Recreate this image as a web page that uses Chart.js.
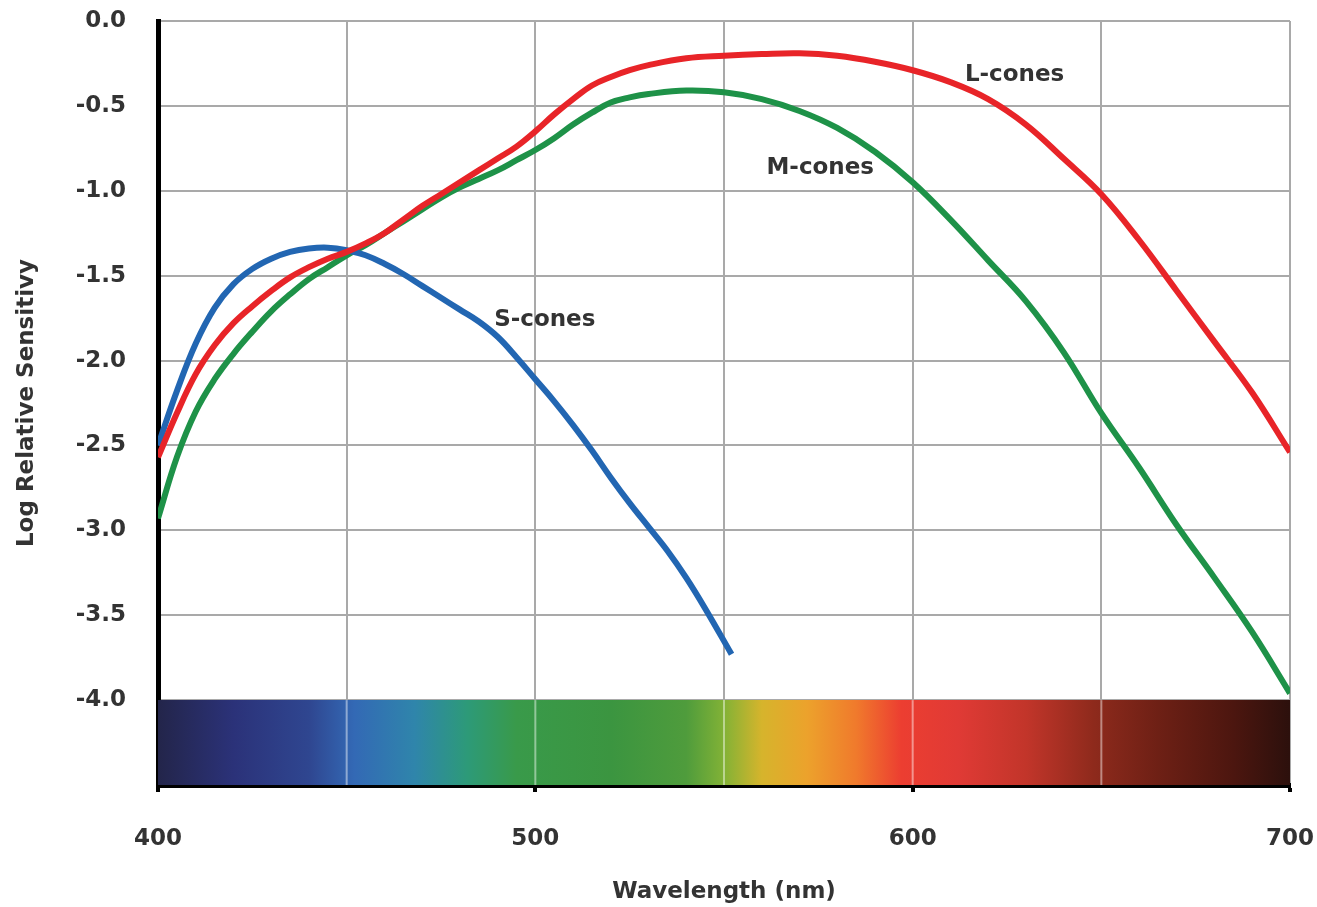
<!DOCTYPE html>
<html>
<head>
<meta charset="utf-8">
<script src="https://cdn.jsdelivr.net/npm/chart.js@4/dist/chart.umd.min.js"></script>
<style>
  html, body { margin: 0; padding: 0; background: #fff; }
  #coneChart { display: block; }
</style>
</head>
<body>
<canvas id="coneChart" width="1317" height="907"></canvas>
<script>
// wavelengths (nm) shared by the L and M curves
const lmWavelengths = [400, 405, 410, 415, 420, 425, 430, 435, 440, 445, 450, 455, 460, 465, 470, 475, 480, 485, 490, 495, 500, 505, 510, 515, 520, 525, 530, 540, 550, 560, 570, 580, 590, 600, 610, 620, 630, 640, 650, 660, 670, 680, 690, 700];
const lCones = [-2.57, -2.31, -2.08, -1.91, -1.78, -1.68, -1.59, -1.51, -1.45, -1.40, -1.36, -1.31, -1.25, -1.17, -1.09, -1.02, -0.95, -0.88, -0.81, -0.74, -0.65, -0.55, -0.46, -0.38, -0.33, -0.29, -0.26, -0.22, -0.205, -0.195, -0.19, -0.205, -0.24, -0.29, -0.36, -0.46, -0.61, -0.81, -1.02, -1.29, -1.59, -1.89, -2.19, -2.54];
const mCones = [-2.93, -2.57, -2.30, -2.11, -1.96, -1.83, -1.71, -1.61, -1.52, -1.45, -1.38, -1.32, -1.25, -1.18, -1.11, -1.04, -0.98, -0.93, -0.88, -0.82, -0.76, -0.69, -0.61, -0.54, -0.48, -0.45, -0.43, -0.41, -0.42, -0.46, -0.53, -0.63, -0.77, -0.95, -1.17, -1.41, -1.65, -1.95, -2.31, -2.63, -2.97, -3.28, -3.60, -3.96];

// S curve stops short of 555 nm
const sWavelengths = [400, 405, 410, 415, 420, 425, 430, 435, 440, 445, 450, 455, 460, 465, 470, 475, 480, 485, 490, 495, 500, 505, 510, 515, 520, 525, 530, 535, 540, 545, 552];
const sCones = [-2.50, -2.18, -1.90, -1.69, -1.55, -1.46, -1.40, -1.36, -1.34, -1.335, -1.35, -1.38, -1.43, -1.49, -1.56, -1.63, -1.70, -1.77, -1.86, -1.98, -2.11, -2.24, -2.38, -2.53, -2.69, -2.84, -2.98, -3.12, -3.28, -3.46, -3.73];

// visible spectrum strip along the bottom
const spectrumNm = [400, 420, 440, 452, 468, 482, 495, 520, 540, 550, 560, 572, 585, 597, 612, 630, 648, 665, 685, 700];
const spectrumColors = ["#23254a", "#2b3279", "#2f4690", "#3369b5", "#2f85ab", "#2d9a78", "#399a4a", "#3b9540", "#4f9c3c", "#82b236", "#d6b42c", "#eca22c", "#f07a2c", "#ec3e31", "#e03a35", "#c2352a", "#8e2a1c", "#6e2015", "#4c160f", "#2c100c"];
const stripTop = -4.0;

// curve labels
const labelNames = ["L-cones", "M-cones", "S-cones"];
const labelNm = [627, 575.5, 502.5];
const labelLog = [-0.32, -0.865, -1.76];

const xTicks = [400, 500, 600, 700];

function toPoints(xs, ys) {
  return xs.map((x, i) => ({ x: x, y: ys[i] }));
}

const textFont = "'DejaVu Sans', sans-serif";
const textColor = "#333333";

const stripLines = {
  id: "stripLines",
  afterDatasetsDraw(chart) {
    const { ctx, scales } = chart;
    const top = scales.y.getPixelForValue(stripTop);
    const bottom = scales.y.getPixelForValue(scales.y.min);
    ctx.save();
    ctx.strokeStyle = "rgba(255,255,255,0.45)";
    ctx.lineWidth = 2;
    for (let v = 450; v < 700; v += 50) {
      const x = scales.x.getPixelForValue(v);
      ctx.beginPath();
      ctx.moveTo(x, top);
      ctx.lineTo(x, bottom);
      ctx.stroke();
    }
    ctx.restore();
  }
};

const curveLabels = {
  id: "curveLabels",
  afterDatasetsDraw(chart) {
    const { ctx, scales } = chart;
    ctx.save();
    ctx.font = "bold 23px " + textFont;
    ctx.fillStyle = textColor;
    ctx.textAlign = "center";
    ctx.textBaseline = "middle";
    labelNames.forEach((name, i) => {
      ctx.fillText(name, scales.x.getPixelForValue(labelNm[i]), scales.y.getPixelForValue(labelLog[i]));
    });
    ctx.restore();
  }
};

function curve(label, xs, ys, color, order) {
  return {
    label: label,
    data: toPoints(xs, ys),
    borderColor: color,
    borderWidth: 6,
    pointRadius: 0,
    tension: 0.4,
    fill: false,
    order: order,
  };
}

new Chart(document.getElementById("coneChart"), {
  type: "line",
  data: {
    datasets: [
      curve("L-cones", lmWavelengths, lCones, "rgb(232, 36, 40)", 0),
      curve("S-cones", sWavelengths, sCones, "rgb(34, 102, 178)", 1),
      curve("M-cones", lmWavelengths, mCones, "rgb(30, 146, 72)", 2),
      {
        label: "spectrum",
        data: [{ x: 400, y: stripTop }, { x: 700, y: stripTop }],
        borderWidth: 0,
        pointRadius: 0,
        fill: "start",
        order: 10,
        backgroundColor: (c) => {
          const chart = c.chart;
          if (!chart.chartArea) return "#444";
          const xs = chart.scales.x;
          const x0 = xs.getPixelForValue(400);
          const x1 = xs.getPixelForValue(700);
          const g = chart.ctx.createLinearGradient(x0, 0, x1, 0);
          spectrumNm.forEach((nm, i) => g.addColorStop((nm - 400) / 300, spectrumColors[i]));
          return g;
        },
      },
    ],
  },
  options: {
    responsive: false,
    animation: false,
    layout: { padding: { top: 21, right: 27, left: 0, bottom: 0 } },
    plugins: {
      legend: { display: false },
      tooltip: { enabled: false },
    },
    scales: {
      x: {
        type: "linear",
        min: 400,
        max: 700,
        afterFit: (s) => {
          s.height = 122;
          s.paddingLeft = 0;
          s.paddingRight = 0;
        },
        border: { display: true, color: "#000", width: 5 },
        grid: {
          color: "#a9a9a9",
          lineWidth: 2,
          drawTicks: true,
          tickLength: 7,
          tickWidth: 4,
          tickColor: (c) => (xTicks.includes(c.tick.value) ? "#000" : "rgba(0,0,0,0)"),
        },
        ticks: {
          stepSize: 50,
          autoSkip: false,
          maxRotation: 0,
          padding: 33,
          color: textColor,
          font: { family: textFont, size: 23, weight: "bold" },
          callback: (v) => (xTicks.includes(v) ? String(v) : ""),
        },
        title: {
          display: true,
          text: "Wavelength (nm)",
          color: textColor,
          font: { family: textFont, size: 23, weight: "bold" },
          padding: { top: 0, bottom: 1 },
        },
      },
      y: {
        min: -4.5,
        max: 0,
        afterFit: (s) => {
          s.width = 158;
          s.paddingTop = 0;
          s.paddingBottom = 0;
        },
        border: { display: true, color: "#000", width: 5 },
        grid: {
          color: "#a9a9a9",
          lineWidth: 2,
          drawTicks: false,
        },
        ticks: {
          stepSize: 0.5,
          padding: 32,
          color: textColor,
          font: { family: textFont, size: 23, weight: "bold" },
          callback: (v) => (v < -4.25 ? "" : v.toFixed(1)),
        },
        title: {
          display: true,
          text: "Log Relative Sensitivy",
          color: textColor,
          font: { family: textFont, size: 23, weight: "bold" },
          padding: { top: 13, bottom: 0 },
        },
      },
    },
  },
  plugins: [stripLines, curveLabels],
});
</script>
</body>
</html>
